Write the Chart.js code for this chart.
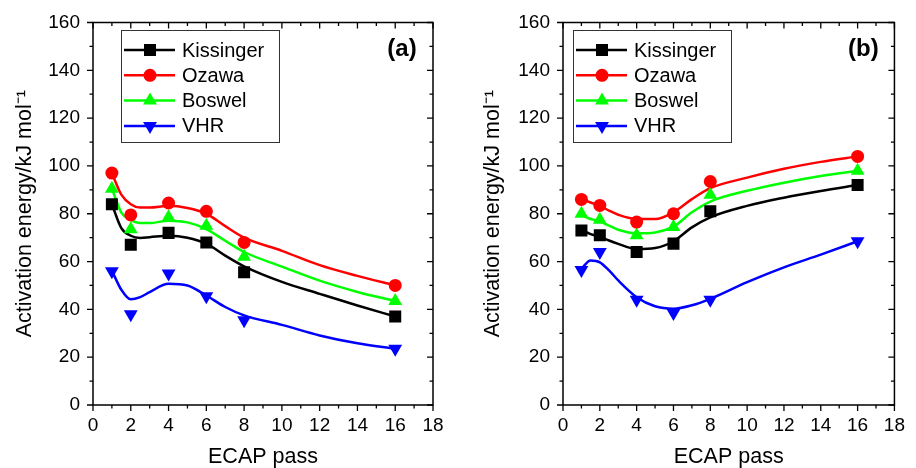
<!DOCTYPE html>
<html>
<head>
<meta charset="utf-8">
<script src="https://cdn.jsdelivr.net/npm/chart.js@4"></script>
<style>
  body { margin: 0; background: #fff; }
  #wrap { position: relative; width: 916px; height: 468px; }
  .panel { position: absolute; top: 0; width: 458px; height: 468px; }
</style>
</head>
<body>
<div id="wrap">
  <div class="panel" style="left:0"><canvas id="chartA" width="458" height="468"></canvas></div>
  <div class="panel" style="left:458px"><canvas id="chartB" width="458" height="468"></canvas></div>
</div>
<script>
// measured points
const passes = [1, 2, 4, 6, 8, 16];
const methods = ['Kissinger', 'Ozawa', 'Boswel', 'VHR'];

const kissingerA = [84, 67, 72, 68, 55.5, 37];
const ozawaA = [97, 79.5, 84.5, 81, 68, 50];
const boswelA = [90.5, 73.5, 78.5, 75, 62, 43.5];
const vhrA = [56, 38, 55, 45.5, 35.5, 23.5];

const kissingerB = [73, 71, 64, 67.5, 81, 92];
const ozawaB = [86, 83.5, 76.5, 80, 93.5, 104];
const boswelB = [80, 77.5, 71, 74.5, 88, 98];
const vhrB = [56.5, 64, 44, 38.5, 44, 68.5];

// fitted curves
const curveX = [1, 1.5, 2, 2.5, 3, 4, 5, 6, 7, 8, 10, 12, 14, 16];
const kissingerFitA = [84, 74, 70.8, 69.9, 70.2, 70.8, 70, 67.5, 62.5, 58, 51.5, 46.5, 41.6, 37];
const ozawaFitA = [97, 88, 84, 82.6, 82.6, 83.3, 82.4, 80, 74.8, 70, 64.5, 58.5, 54, 50];
const boswelFitA = [90.5, 80.5, 77.4, 76.1, 76.1, 77.1, 76.4, 73.6, 68.7, 64, 57.9, 52, 47.3, 43.5];
const vhrFitA = [56.2, 48.2, 44.2, 45.1, 47.2, 50.7, 50, 45.8, 41, 37.5, 33.5, 29.1, 25.8, 23.5];

const kissingerFitB = [73.2, 71.5, 70.4, 68.8, 67.4, 65.3, 65.7, 68.5, 74.3, 78.5, 83.3, 86.7, 89.5, 92];
const ozawaFitB = [86.1, 84.7, 83.3, 81.3, 79.6, 77.8, 77.8, 80.6, 86.1, 90.7, 95.1, 98.8, 101.7, 104];
const boswelFitB = [79.5, 77.8, 76.8, 75, 73.3, 71.8, 72.2, 74.6, 80.6, 85.1, 89.6, 93, 95.8, 98];
const vhrFitB = [57, 60.4, 59.7, 56.3, 52.1, 45.1, 41.3, 40.3, 41.7, 44.4, 51.4, 57.6, 62.9, 68.5];

const colors = ['#000000', '#ff0000', '#00ff00', '#0000ff'];
const markers = [
    { pointStyle: 'rect', pointRadius: 8.5, rotation: 0 },
    { pointStyle: 'circle', pointRadius: 6.5, rotation: 0 },
    { pointStyle: 'triangle', pointRadius: 8, rotation: 0 },
    { pointStyle: 'triangle', pointRadius: 8, rotation: 180 }
];

const FONT = '"Liberation Sans", Arial, sans-serif';

function toXY(xs, ys) {
    return xs.map((x, i) => ({ x: x, y: ys[i] }));
}

function buildDatasets(points, fits) {
    const sets = [];
    points.forEach((vals, i) => {
        sets.push({
            label: methods[i],
            data: toXY(passes, vals),
            showLine: false,
            backgroundColor: colors[i],
            borderColor: colors[i],
            borderWidth: 0,
            pointStyle: markers[i].pointStyle,
            pointRadius: markers[i].pointRadius,
            rotation: markers[i].rotation,
            isLegend: true,
            order: 0
        });
    });
    fits.forEach((vals, i) => {
        sets.push({
            label: methods[i] + ' fit',
            data: toXY(curveX, vals),
            showLine: true,
            borderColor: colors[i],
            borderWidth: 2.5,
            pointRadius: 0,
            cubicInterpolationMode: 'monotone',
            fill: false,
            order: 1
        });
    });
    return sets;
}

// frame with ticks on all four sides, boxed legend, panel letter
const framePlugin = {
    id: 'frame',
    afterDraw(chart, args, opts) {
        const { ctx, chartArea: a, scales: { x, y } } = chart;
        ctx.save();
        ctx.strokeStyle = '#000';
        ctx.lineWidth = 1.5;
        ctx.strokeRect(a.left, a.top, a.right - a.left, a.bottom - a.top);

        ctx.lineWidth = 1.3;
        ctx.beginPath();
        for (let v = x.min; v <= x.max; v += 1) {
            const px = x.getPixelForValue(v);
            const len = v % 2 === 0 ? 6 : 3.5;
            ctx.moveTo(px, a.bottom); ctx.lineTo(px, a.bottom + len);
            ctx.moveTo(px, a.top); ctx.lineTo(px, a.top + len);
        }
        for (let v = y.min; v <= y.max; v += 10) {
            const py = y.getPixelForValue(v);
            const len = v % 20 === 0 ? 6 : 3.5;
            ctx.moveTo(a.left, py); ctx.lineTo(a.left - len, py);
            ctx.moveTo(a.right, py); ctx.lineTo(a.right - len, py);
        }
        ctx.stroke();

        // legend
        const bx = a.left + opts.legendX, by = a.top + 7.5;
        ctx.strokeStyle = '#333';
        ctx.lineWidth = 1;
        ctx.strokeRect(bx + 0.5, by + 0.5, 158, 112);
        const items = chart.data.datasets.filter(d => d.isLegend);
        items.forEach((d, i) => {
            const yy = by + 20 + i * 25.3;
            ctx.strokeStyle = d.borderColor;
            ctx.lineWidth = 2.5;
            ctx.beginPath();
            ctx.moveTo(bx + 3, yy);
            ctx.lineTo(bx + 54, yy);
            ctx.stroke();
            ctx.fillStyle = d.backgroundColor;
            Chart.helpers.drawPoint(ctx, {
                pointStyle: d.pointStyle, radius: d.pointRadius, rotation: d.rotation, borderWidth: 0
            }, bx + 29, yy);
            ctx.fillStyle = '#000';
            ctx.font = '20px ' + FONT;
            ctx.textAlign = 'left';
            ctx.textBaseline = 'middle';
            ctx.fillText(d.label, bx + 61, yy + 1);
        });

        ctx.font = 'bold 24px ' + FONT;
        ctx.textAlign = 'center';
        ctx.textBaseline = 'middle';
        ctx.fillStyle = '#000';
        ctx.fillText(opts.label, a.right - 31, a.top + 27);
        ctx.restore();
    }
};

function makeChart(id, points, fits, yWidth, rightPad, titlePad, legendX, label) {
    return new Chart(document.getElementById(id), {
        type: 'scatter',
        data: { datasets: buildDatasets(points, fits) },
        options: {
            responsive: false,
            animation: false,
            layout: { padding: { top: 21, right: rightPad, left: 0, bottom: 0 } },
            scales: {
                x: {
                    type: 'linear',
                    min: 0,
                    max: 18,
                    grid: { display: false, drawTicks: false },
                    border: { display: false },
                    ticks: { stepSize: 2, color: '#000', padding: 11, font: { family: FONT, size: 19, lineHeight: 1 } },
                    title: {
                        display: true,
                        text: 'ECAP pass',
                        color: '#000',
                        padding: { top: 0, bottom: 0 },
                        font: { family: FONT, size: 21.5, lineHeight: 1 }
                    },
                    afterFit: s => { s.height = 63; }
                },
                y: {
                    min: 0,
                    max: 160,
                    grid: { display: false, drawTicks: false },
                    border: { display: false },
                    ticks: { stepSize: 20, color: '#000', padding: 13, font: { family: FONT, size: 19, lineHeight: 1 } },
                    title: {
                        display: true,
                        text: 'Activation energy/kJ mol\u207B\u00B9',
                        color: '#000',
                        padding: { top: titlePad, bottom: 0 },
                        font: { family: FONT, size: 21.5, lineHeight: 1 }
                    },
                    afterFit: s => { s.width = yWidth; }
                }
            },
            plugins: {
                legend: { display: false },
                tooltip: { enabled: false },
                frame: { legendX: legendX, label: label }
            }
        },
        plugins: [framePlugin]
    });
}

makeChart('chartA', [kissingerA, ozawaA, boswelA, vhrA],
    [kissingerFitA, ozawaFitA, boswelFitA, vhrFitA], 93, 25, 14, 28, '(a)');
makeChart('chartB', [kissingerB, ozawaB, boswelB, vhrB],
    [kissingerFitB, ozawaFitB, boswelFitB, vhrFitB], 105, 13, 24, 10, '(b)');
</script>
</body>
</html>
